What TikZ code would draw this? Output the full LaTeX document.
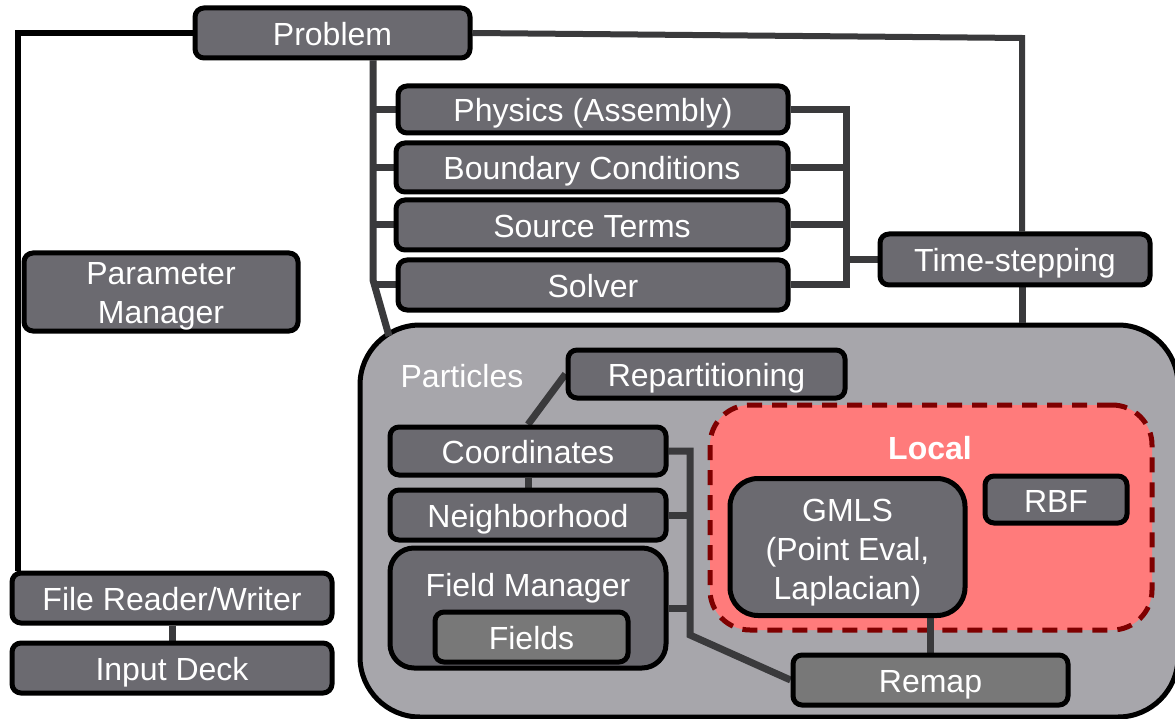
\documentclass[tikz,border=0pt]{standalone}
\usepackage{fontspec}
\setmainfont{Liberation Sans}
\usetikzlibrary{calc}
\definecolor{boxgray}{HTML}{6B6A70}
\definecolor{lightbox}{HTML}{787878}
\definecolor{partgray}{HTML}{A7A6AB}
\definecolor{conngray}{HTML}{3A3A3C}
\definecolor{localfill}{HTML}{FF7B7B}
\definecolor{localedge}{HTML}{7F0000}
\pgfdeclarelayer{bg}
\pgfdeclarelayer{cn}
\pgfsetlayers{bg,cn,main}
\begin{document}
\begin{tikzpicture}[x=1pt,y=-1pt,
  frame/.style={draw=black, line width=5pt, fill=boxgray, rounded corners=9pt, inner sep=0pt},
  box/.style={frame, text=white, font=\fontsize{32}{39}\selectfont, text height=30pt, text depth=5pt},
  lbox/.style={box, fill=lightbox},
  txt/.style={text=white, font=\fontsize{32}{39}\selectfont, inner sep=0pt, align=center},
  conn/.style={draw=conngray, line width=7pt},
  bconn/.style={draw=black, line width=6pt}]
\useasboundingbox (0,0) rectangle (1175,719);

% containers
\begin{pgfonlayer}{bg}
\node[draw=black, line width=5pt, fill=partgray, rounded corners=60pt, minimum width=818pt, minimum height=392pt, inner sep=0pt] (particles) at (769,521) {};
\node[draw=localedge, line width=5pt, fill=localfill, rounded corners=40pt, dash pattern=on 15pt off 10pt, minimum width=442pt, minimum height=225pt, inner sep=0pt] (local) at (931,517.5) {};
\end{pgfonlayer}

% boxes
\node[box, minimum width=275pt, minimum height=50pt] (problem) at (332.5,33) {Problem};
\node[box, minimum width=390pt, minimum height=47pt] (phys) at (593,109.5) {Physics (Assembly)};
\node[box, minimum width=392pt, minimum height=49pt] (bc) at (592,167.5) {Boundary Conditions};
\node[box, minimum width=392pt, minimum height=50pt] (src) at (592,225) {Source Terms};
\node[box, minimum width=390pt, minimum height=50pt] (sol) at (593,285) {Solver};
\node[box, minimum width=270pt, minimum height=51pt] (ts) at (1015,259.5) {Time-stepping};
\node[frame, minimum width=274pt, minimum height=78pt] (param) at (161,292) {};
\node[txt] (paramtext) at (161,296) {Parameter\\Manager};
\node[box, minimum width=320pt, minimum height=50pt] (frw) at (172,598) {File Reader/Writer};
\node[box, minimum width=320pt, minimum height=50pt] (deck) at (172,668) {Input Deck};

\node[txt] (plabel) at (462,376) {Particles};
\node[box, minimum width=277pt, minimum height=48pt] (rep) at (706.5,374) {Repartitioning};
\node[box, minimum width=276pt, minimum height=48pt] (coord) at (528,451) {Coordinates};
\node[box, minimum width=276pt, minimum height=50pt] (neigh) at (528,515) {Neighborhood};
\node[frame, rounded corners=24pt, minimum width=276pt, minimum height=120pt] (fm) at (528,608) {};
\node[txt] (fmlabel) at (528,588) {Field Manager};
\node[lbox, minimum width=193pt, minimum height=50pt] (fields) at (531.5,637) {Fields};

\node[txt, font=\fontsize{32}{39}\selectfont\bfseries] (llabel) at (930,448) {Local};
\node[frame, rounded corners=28pt, minimum width=235pt, minimum height=137pt] (gmls) at (847.5,547) {};
\node[txt] (gmlstext) at (847.5,553) {GMLS\\(Point Eval,\\Laplacian)};
\node[box, minimum width=142pt, minimum height=47pt] (rbf) at (1056,499.5) {RBF};
\node[lbox, minimum width=275pt, minimum height=50pt] (remap) at (930.5,680) {Remap};

% connectors
\coordinate (tcorner) at (1022,38);
\coordinate (tk) at (373,280);
\coordinate (pentry) at (389,336);
\coordinate (br) at (846,0);
\coordinate (br2) at (690,0);
\coordinate (bbend) at (690,635);
\begin{pgfonlayer}{cn}
\draw[bconn] (problem.west) -| ($(frw.north west)+(8,0)$);
\draw[conn, line width=6pt] (problem.east) -- (tcorner) -- (tcorner |- ts.north);
\draw[conn] (problem.south -| tk) -- (tk) -- (pentry);
\foreach \n in {phys,bc,src,sol} \draw[conn] (\n.west) -- (\n.west -| tk);
\draw[conn] (phys.east) -- (phys.east -| br) -- (sol.east -| br) -- (sol.east);
\draw[conn] (bc.east) -- (bc.east -| br);
\draw[conn] (src.east) -- (src.east -| br);
\draw[conn] (ts.west) -- (ts.west -| br);
\draw[conn] (ts.south -| tcorner) -- (particles.north -| tcorner);
\draw[conn] (frw.south) -- (deck.north);
\draw[conn] (rep.west) -- (coord.north);
\draw[conn] (coord.south) -- (neigh.north);
\draw[conn] (coord.east) -- (coord.east -| br2) -- (bbend) -- (remap.west);
\draw[conn] (neigh.east) -- (neigh.east -| br2);
\draw[conn] (fm.east) -- (fm.east -| br2);
\draw[conn] (remap.north) -- (remap.north |- gmls.south);
\end{pgfonlayer}
\end{tikzpicture}
\end{document}
